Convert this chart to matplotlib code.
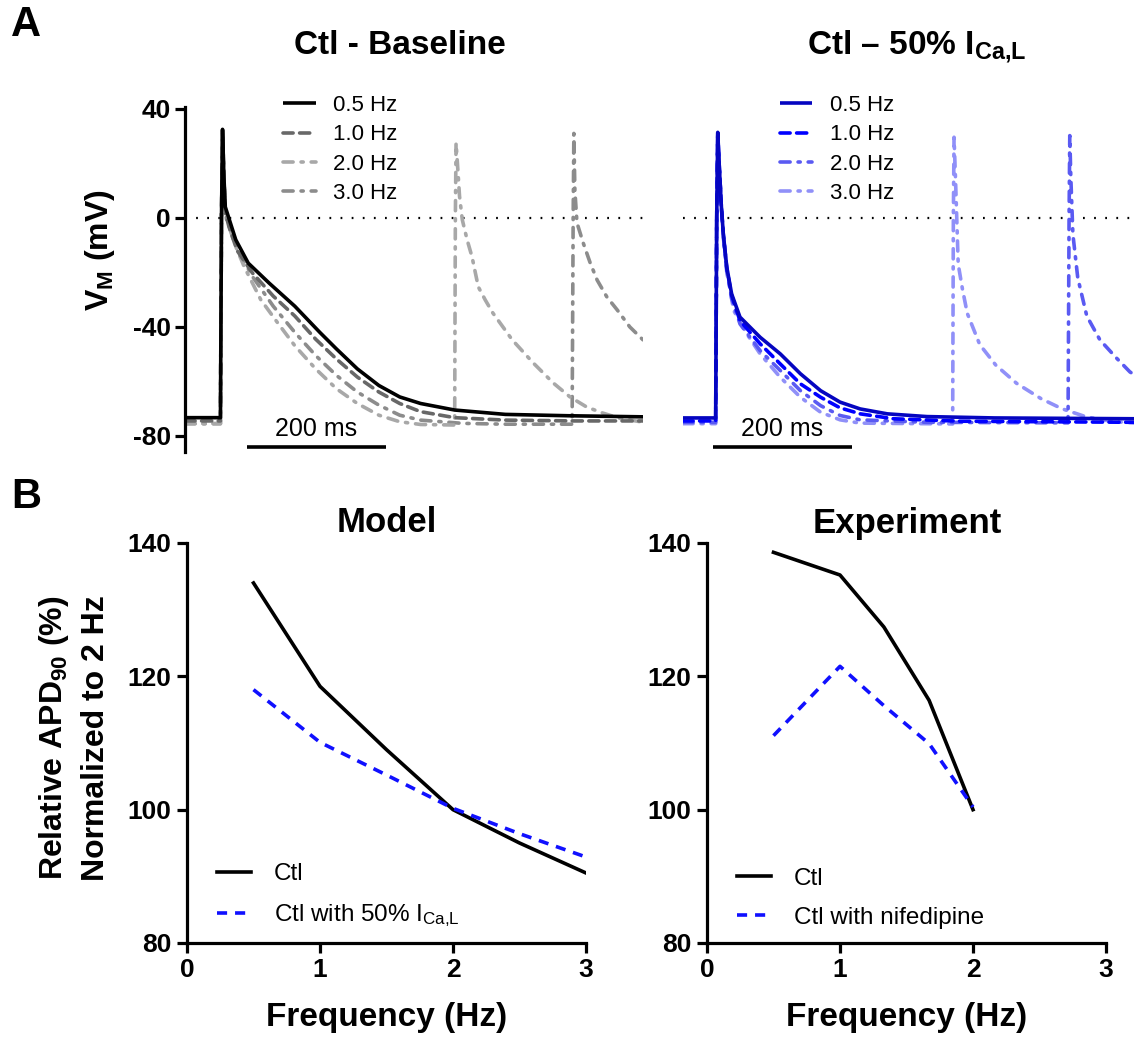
import numpy as np
import matplotlib
matplotlib.use("Agg")
import matplotlib.pyplot as plt

plt.rcParams["font.family"] = ["Liberation Sans", "DejaVu Sans"]
plt.rcParams["mathtext.fontset"] = "custom"
plt.rcParams["mathtext.rm"] = "Liberation Sans"
plt.rcParams["mathtext.bf"] = "Liberation Sans:bold"
plt.rcParams["mathtext.it"] = "Liberation Sans:italic"

# ---- panel A: action potentials (time in ms, voltage in mV) ----
labels_ap = ["0.5 Hz", "1.0 Hz", "2.0 Hz", "3.0 Hz"]

base_t_05 = [0, 51, 52.5, 54, 56, 58, 63, 73, 91, 121, 158, 194, 218, 248, 279, 309, 339, 388, 461, 552, 660]
base_v_05 = [-73.3, -73.3, 0, 32.5, 15, 4, 0, -8, -16.6, -23.9, -32.4, -42, -48.1, -55.4, -61.5,
             -65.7, -68.1, -70.5, -72.1, -72.6, -73]

base_t_10 = [0, 51, 52.5, 54, 56, 58, 63, 75, 97, 127, 158, 188, 218, 248, 279, 309, 339, 388, 461, 560, 660]
base_v_10 = [-74.5, -74.5, 0, 32, 15, 2, -3, -12, -20.2, -28.7, -36, -44.5, -51.8, -58.4, -63.9,
             -68.1, -71.1, -73.3, -74.2, -74.5, -74.5]

base_t_20 = [0, 51, 52.5, 54, 56, 58, 63, 73, 85, 109, 133, 158, 188, 218, 248, 279, 309, 339, 388,
             389, 390, 392, 395, 399, 406, 413, 422, 432, 443, 471, 501, 530, 554, 578, 601, 625, 660]
base_v_20 = [-75.5, -75.5, 0, 31, 15, 3, -3, -10.5, -17.8, -30, -38.4, -46.9, -55.4, -62.7, -68.1,
             -72.4, -74.8, -75.8, -76, 0, 27.5, 20, 8, -0.7, -8.1, -14.3, -25.3, -30.1, -34.9,
             -44.8, -53.2, -60.6, -65.7, -69.4, -71.6, -73.5, -75]

base_t_30 = [0, 51, 52.5, 54, 56, 58, 60, 79, 97, 127, 158, 188, 218, 248, 279, 309, 339, 400, 461,
             557, 558.5, 559.5, 561, 564, 573, 583, 593, 607, 622, 640, 660]
base_v_30 = [-75.5, -75.5, 0, 31.5, 15, 3, -1, -13, -21.5, -32.4, -42, -50.5, -57.8, -63.9, -68.7,
             -72.4, -74.2, -75.4, -75.7, -75.7, 0, 31, 10, -1.8, -9.2, -16.5, -22.8, -29, -33.8,
             -40, -45]

ca_t_05 = [0, 47, 48.5, 50, 52, 55, 58, 63, 70, 82, 111, 140, 169, 198, 226, 255, 294, 351, 448, 649]
ca_v_05 = [-73.4, -73.4, 0, 31.4, 20, 5, -5.9, -18.1, -27.9, -36.4, -43.8, -49.9, -57.2, -63.4,
           -67.6, -70.1, -71.9, -72.9, -73.4, -73.7]

ca_t_10 = [0, 47, 48.5, 50, 52, 55, 58, 63, 70, 82, 111, 140, 169, 198, 226, 255, 303, 399, 649]
ca_v_10 = [-74.5, -74.5, 0, 31, 20, 5, -6, -18.5, -28.5, -37.7, -46.2, -53.6, -60.9, -65.8, -69.7,
           -71.9, -73.7, -74.6, -75]

ca_t_20 = [0, 47, 48.5, 50, 52, 55, 58, 63, 70, 82, 111, 140, 169, 198, 226, 255, 351, 554,
           555.5, 556.5, 558, 561, 568, 581, 600, 624, 643, 649]
ca_v_20 = [-75, -75, 0, 30.5, 20, 5, -6.5, -19, -29.5, -38.9, -48.7, -56, -63.4, -68.9, -72.5,
           -74.1, -75, -75.2, 0, 30.2, 15, -6, -22, -36, -44.8, -51.5, -56.5, -57.5]

ca_t_30 = [0, 47, 48.5, 50, 52, 55, 58, 63, 73, 92, 111, 140, 169, 198, 226, 255, 388,
           389, 390, 392, 396, 402, 409, 427, 450, 480, 515, 545, 580, 620, 649]
ca_v_30 = [-75.5, -75.5, 0, 30, 20, 5, -7, -20, -34, -42.6, -49.9, -58.5, -65.8, -71.3, -74.1,
           -75.3, -75.6, 0, 29.6, 15, -17, -26, -35, -46.5, -54, -60.7, -66.3, -70, -73, -74.8, -75.2]

# ---- panel B: APD90 relative to 2 Hz ----
model_freq = [0.5, 1, 1.5, 2, 2.5, 3]
model_ctl = [134, 118.5, 109, 100, 95, 90.5]
model_ca = [118, 110.1, 105.2, 100.2, 96.4, 92.9]

exp_freq = [0.5, 1, 1.33, 1.67, 2]
exp_ctl = [138.6, 135.2, 127.4, 116.4, 100]
exp_nif = [111.1, 121.5, 115.6, 109.9, 100.4]

gray_colors = ["#000000", "#686868", "#a8a8a8", "#8c8c8c"]
blue_colors = ["#0505c0", "#0000ff", "#5a5af2", "#9090f8"]
styles = ["-", (0, (2.8, 1.8)), (0, (2.8, 2.2, 0.6, 2.2)), (0, (2.8, 2.2, 0.6, 2.2))]

W, H = 1134, 1041
fig = plt.figure(figsize=(W / 100, H / 100), dpi=100)


def px_axes(x0, y0, x1, y1):
    return fig.add_axes([x0 / W, 1 - y1 / H, (x1 - x0) / W, (y1 - y0) / H])


px_per_ms = 0.695

axA1 = px_axes(185, 107, 643, 452)
axA2 = px_axes(683, 107, 1134, 452)

traces_base = [(base_t_05, base_v_05), (base_t_10, base_v_10), (base_t_20, base_v_20), (base_t_30, base_v_30)]
traces_ca = [(ca_t_05, ca_v_05), (ca_t_10, ca_v_10), (ca_t_20, ca_v_20), (ca_t_30, ca_v_30)]

for ax, traces, colors, width_px, bar_start in [
    (axA1, traces_base, gray_colors, 458, 89),
    (axA2, traces_ca, blue_colors, 451, 43),
]:
    ax.axhline(0, color="black", lw=1.6, ls=(0, (0.8, 4.2)))
    handles = []
    for i in [3, 2, 1, 0]:
        t, v = traces[i]
        ln, = ax.plot(t, v, color=colors[i], lw=2.6, ls=styles[i], label=labels_ap[i],
                      solid_capstyle="butt", dash_capstyle="round")
        handles.append(ln)
    handles = handles[::-1]
    ax.set_xlim(0, width_px / px_per_ms)
    ax.set_ylim(-85.9, 40.7)
    ax.plot([bar_start, bar_start + 200], [-84, -84], color="black", lw=2.6, clip_on=False,
            solid_capstyle="butt")
    ax.text(bar_start + 100, -77.5, "200 ms", ha="center", va="center", fontsize=18)
    for s in ["top", "right", "bottom"]:
        ax.spines[s].set_visible(False)
    ax.set_xticks([])
    ax.legend(handles=handles, loc="upper left", bbox_to_anchor=(0.215, 1.035), frameon=False,
              fontsize=16, handlelength=1.45, handletextpad=0.8, labelspacing=0.38,
              borderpad=0, borderaxespad=0)

axA1.spines["left"].set_linewidth(2.3)
axA1.set_yticks([40, 0, -40, -80])
axA1.set_yticklabels(["40", "0", "-40", "-80"])
axA1.tick_params(axis="y", length=7, width=2.3, labelsize=19, pad=3)
for lab in axA1.get_yticklabels():
    lab.set_fontweight("bold")
axA2.spines["left"].set_visible(False)
axA2.set_yticks([])

axB1 = px_axes(187, 543, 586, 943)
axB2 = px_axes(707, 543, 1106, 943)

axB1.plot(model_freq, model_ctl, color="black", lw=2.6, label="Ctl")
axB1.plot(model_freq, model_ca, color="#1010ff", lw=2.6, ls=(0, (2.8, 2.2)),
          label=r"Ctl with 50% $\mathrm{I_{Ca{,}L}}$")
axB2.plot(exp_freq, exp_ctl, color="black", lw=2.6, label="Ctl")
axB2.plot(exp_freq, exp_nif, color="#1010ff", lw=2.6, ls=(0, (2.8, 2.2)),
          label="Ctl with nifedipine")

for ax in [axB1, axB2]:
    ax.set_xlim(0, 3)
    ax.set_ylim(80, 140)
    ax.set_xticks([0, 1, 2, 3])
    ax.set_yticks([80, 100, 120, 140])
    for s in ["top", "right"]:
        ax.spines[s].set_visible(False)
    for s in ["left", "bottom"]:
        ax.spines[s].set_linewidth(2.3)
    ax.tick_params(length=7, width=2.3, labelsize=19, pad=4)
    for lab in ax.get_xticklabels() + ax.get_yticklabels():
        lab.set_fontweight("bold")
    ax.legend(loc="lower left", bbox_to_anchor=(0.075, 0.035), frameon=False, fontsize=17.5,
              handlelength=1.4, handletextpad=0.95, labelspacing=0.7, borderpad=0,
              borderaxespad=0)
    ax.set_xlabel("Frequency (Hz)", fontsize=24, fontweight="bold", labelpad=14)


def fx(x):
    return x / W


def fy(y):
    return 1 - y / H


fig.text(fx(26), fy(25), "A", fontsize=30, fontweight="bold", ha="center", va="center")
fig.text(fx(26), fy(497), "B", fontsize=30, fontweight="bold", ha="center", va="center")
fig.text(fx(400), fy(45), "Ctl - Baseline", fontsize=24, fontweight="bold", ha="center", va="center")
fig.text(fx(917), fy(47), r"Ctl – 50% $\mathbf{I_{Ca{,}L}}$", fontsize=24, fontweight="bold",
         ha="center", va="center")
fig.text(fx(387), fy(523), "Model", fontsize=25, fontweight="bold", ha="center", va="center")
fig.text(fx(907), fy(523), "Experiment", fontsize=25, fontweight="bold", ha="center", va="center")
fig.text(fx(100), fy(250), r"$\mathbf{V_M}$ (mV)", fontsize=23, fontweight="bold", rotation=90,
         ha="center", va="center")
fig.text(fx(74), fy(738), "Relative $\\mathbf{APD_{90}}$ (%)\nNormalized to 2 Hz", fontsize=23,
         fontweight="bold", rotation=90, ha="center", va="center", multialignment="center",
         linespacing=1.4)

fig.savefig("out.png", dpi=100)
